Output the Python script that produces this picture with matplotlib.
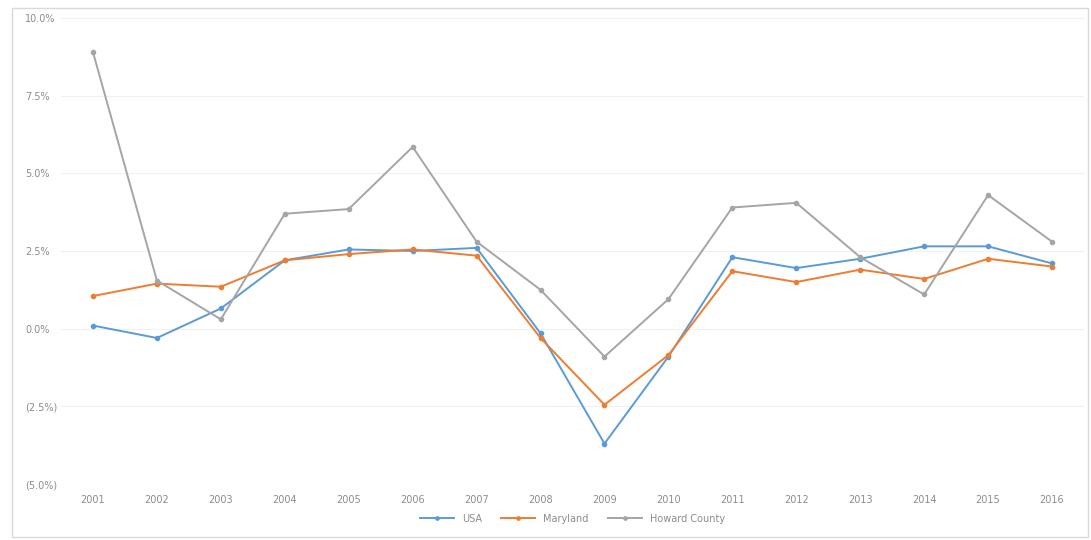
import matplotlib
matplotlib.use("Agg")
import matplotlib.pyplot as plt
from matplotlib.patches import Rectangle
from matplotlib.ticker import FuncFormatter

YEARS = [str(y) for y in range(2001, 2017)]

# annual growth, percent
USA = [0.1, -0.3, 0.65, 2.2, 2.55, 2.5, 2.6, -0.15, -3.7, -0.9, 2.3, 1.95, 2.25, 2.65, 2.65, 2.1]
MARYLAND = [1.05, 1.45, 1.35, 2.2, 2.4, 2.55, 2.35, -0.3, -2.45, -0.85, 1.85, 1.5, 1.9, 1.6, 2.25, 2.0]
HOWARD = [8.9, 1.55, 0.3, 3.7, 3.85, 5.85, 2.8, 1.25, -0.9, 0.95, 3.9, 4.05, 2.3, 1.1, 4.3, 2.8]

SERIES = [
    ("USA", USA, "#5B9BD5"),
    ("Maryland", MARYLAND, "#ED7D31"),
    ("Howard County", HOWARD, "#A5A5A5"),
]


def pct_fmt(v, _pos):
    if v < 0:
        return f"({abs(v):.1f}%)"
    return f"{v:.1f}%"


def main():
    fig = plt.figure(figsize=(10.91, 5.40), dpi=100)
    fig.patches.append(Rectangle((12 / 1091, 0.005), 1076 / 1091, 1 - 8 / 540 - 0.005,
                                 transform=fig.transFigure, fill=False,
                                 edgecolor="#d9d9d9", linewidth=1.0))
    ax = fig.add_axes([61 / 1091, 1 - 484 / 540, (1084 - 61) / 1091, (484 - 18) / 540])

    x = list(range(len(YEARS)))
    for name, vals, color in SERIES:
        ax.plot(x, vals, color=color, linewidth=1.4, marker="o", markersize=3,
                label=name, zorder=3)

    ax.set_xlim(-0.5, len(YEARS) - 0.5)
    ax.set_ylim(-5, 10)
    ax.set_yticks([-5, -2.5, 0, 2.5, 5, 7.5, 10])
    ax.yaxis.set_major_formatter(FuncFormatter(pct_fmt))
    ax.set_xticks(x)
    ax.set_xticklabels(YEARS)
    ax.tick_params(axis="both", length=0, labelsize=7, colors="#8c8c8c")
    ax.tick_params(axis="x", pad=8)
    ax.tick_params(axis="y", pad=26)
    for lbl in ax.get_yticklabels():
        lbl.set_horizontalalignment("left")
    ax.grid(axis="y", color="#f0f0f0", linewidth=0.8)
    for side in ax.spines.values():
        side.set_visible(False)

    ax.legend(loc="upper center", bbox_to_anchor=(0.5, -0.045), ncol=3, frameon=False,
              fontsize=7, labelcolor="#8c8c8c", handlelength=3.5, columnspacing=2.0,
              markerscale=0.8)

    fig.savefig("out.png", dpi=100)
    plt.close(fig)


if __name__ == "__main__":
    main()
